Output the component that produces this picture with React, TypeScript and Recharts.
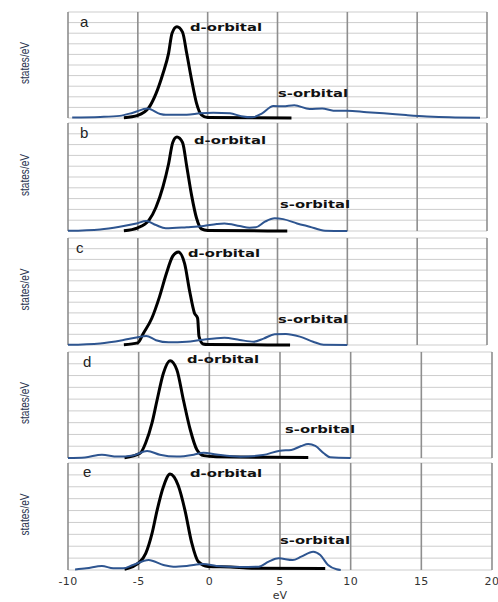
import React from "react";
import { LineChart, Line, XAxis, YAxis, CartesianGrid } from "recharts";

// x axis ticks (eV)
const X_TICKS = [-10, -5, 0, 5, 10, 15, 20];
const PANEL_LETTERS = ["a", "b", "c", "d", "e"];

// [eV, states/eV] pairs
const dOrbitalA = [[-6, 0.03], [-5, 0.25], [-4.2, 1.0], [-3.7, 2.3], [-3.2, 4.2], [-2.8, 6.1], [-2.55, 8.0], [-2.2, 8.6], [-1.8, 8.1], [-1.5, 6.1], [-1.15, 3.6], [-0.8, 1.4], [-0.45, 0.3], [0, 0.05], [6, 0]];
const sOrbitalA = [[-9.7, 0.05], [-7.7, 0.1], [-6.3, 0.2], [-5.35, 0.5], [-4.3, 0.9], [-3.4, 0.38], [-3, 0.3], [-1.5, 0.3], [-0.55, 0.44], [0.4, 0.5], [1.6, 0.44], [2.4, 0.17], [3.2, 0.06], [3.9, 0.44], [4.7, 1.13], [5.4, 1.1], [6.2, 1.2], [7.3, 0.85], [8.2, 0.9], [9, 0.69], [10, 0.69], [11.4, 0.54], [12.6, 0.44], [14.2, 0.28], [15.7, 0.15], [17.3, 0.06], [19.5, 0.02]];

const dOrbitalB = [[-6, 0.03], [-5, 0.3], [-4.2, 1.0], [-3.7, 2.2], [-3.2, 4.1], [-2.8, 6.2], [-2.5, 8.2], [-2.2, 8.7], [-1.8, 8.2], [-1.5, 6.0], [-1.15, 3.3], [-0.8, 1.2], [-0.45, 0.2], [0, 0.05], [5.7, 0]];
const sOrbitalB = [[-10, 0.02], [-7.7, 0.15], [-6.3, 0.4], [-5.1, 0.7], [-4.4, 0.93], [-3.7, 0.55], [-3, 0.25], [-1.5, 0.35], [-0.3, 0.46], [0.65, 0.65], [1.2, 0.7], [2.3, 0.46], [3, 0.31], [3.45, 0.34], [4.1, 0.86], [4.8, 1.17], [5.4, 1.1], [6.4, 0.7], [7.3, 0.4], [8.4, 0.03], [10, 0]];

const dOrbitalC = [[-6, 0.03], [-5, 0.2], [-4.6, 1.1], [-4, 2.5], [-3.45, 4.5], [-2.95, 6.7], [-2.5, 8.3], [-2.1, 8.7], [-1.65, 7.6], [-1.3, 5.1], [-0.95, 3.0], [-0.72, 2.5], [-0.62, 0.8], [-0.33, 0.1], [0, 0.05], [5.9, 0]];
const sOrbitalC = [[-10, 0.02], [-7.7, 0.15], [-6.1, 0.45], [-5.1, 0.7], [-4.4, 0.85], [-3.7, 0.45], [-2.8, 0.25], [-1.5, 0.3], [-0.5, 0.47], [1.2, 0.68], [2.3, 0.47], [3.3, 0.31], [4, 0.6], [4.8, 1.0], [5.6, 1.03], [6.6, 0.78], [7.55, 0.31], [8.3, 0.02], [10, 0]];

const dOrbitalD = [[-6, 0.03], [-4.9, 0.4], [-4.5, 1.3], [-4.05, 3.0], [-3.7, 4.9], [-3.25, 7.2], [-2.78, 8.26], [-2.3, 7.5], [-1.83, 4.9], [-1.35, 2.4], [-0.88, 0.7], [-0.4, 0.2], [0.5, 0.1], [7, 0.05]];
const sOrbitalD = [[-10, 0], [-8.8, 0.05], [-7.6, 0.28], [-6.5, 0.12], [-5.4, 0.22], [-4.4, 0.6], [-3.5, 0.28], [-2.3, 0.12], [-1.1, 0.28], [-0.4, 0.45], [0.5, 0.3], [2.2, 0.11], [3.8, 0.25], [5, 0.62], [5.8, 0.68], [6.5, 1.02], [7, 1.19], [7.5, 1.02], [8.1, 0.4], [8.55, 0.06], [10, 0]];

const dOrbitalE = [[-6, 0.05], [-4.9, 0.7], [-4.5, 1.4], [-4.05, 3.1], [-3.7, 5.0], [-3.25, 7.0], [-2.78, 8.07], [-2.2, 7.1], [-1.72, 5.0], [-1.25, 2.3], [-0.78, 0.7], [-0.1, 0.3], [1.5, 0.25], [3, 0.15], [8.2, 0.12]];
const sOrbitalE = [[-9.5, 0.05], [-8.7, 0.14], [-7.6, 0.34], [-6.8, 0.14], [-6.1, 0.14], [-5.4, 0.42], [-4.3, 0.84], [-3.25, 0.42], [-2.55, 0.28], [-1.6, 0.34], [-0.42, 0.5], [0.5, 0.34], [2.2, 0.25], [3.5, 0.28], [4.2, 0.7], [4.9, 0.98], [5.9, 0.84], [6.5, 1.12], [7.35, 1.54], [7.85, 1.26], [8.4, 0.42], [9, 0.06], [9.3, 0]];

const toPoints = (arr: number[][]) => arr.map(([x, y]) => ({ x, y }));

const D_SERIES = [dOrbitalA, dOrbitalB, dOrbitalC, dOrbitalD, dOrbitalE];
const S_SERIES = [sOrbitalA, sOrbitalB, sOrbitalC, sOrbitalD, sOrbitalE];

// layout of each panel (page pixels)
const LAYOUT = [
  { top: 12, bottom: 118, right: 487, yMax: 10, d: [190, 27], s: [278, 93], letter: [80, 27] },
  { top: 123, bottom: 231, right: 487, yMax: 10, d: [194, 140], s: [280, 204], letter: [80, 138] },
  { top: 238, bottom: 345, right: 487, yMax: 10, d: [188, 253], s: [278, 319], letter: [76, 253] },
  { top: 352, bottom: 458, right: 492, yMax: 9, d: [187, 359], s: [285, 429], letter: [83, 367] },
  { top: 463, bottom: 570, right: 492, yMax: 9, d: [190, 473], s: [280, 540], letter: [83, 477] },
];

const W = 498;
const PAD = 2;
const LEFT = 68;
const AXIS_H = 22;

// invisible tick: keeps the ticks (and so the grid lines) but draws no label
const NoTick = () => <g />;

function Panel({ idx }: { idx: number }) {
  const L = LAYOUT[idx];
  const last = idx === LAYOUT.length - 1;
  const yTicks = Array.from({ length: L.yMax + 1 }, (_, i) => i);
  const plotH = L.bottom - L.top;
  const h = plotH + PAD + (last ? AXIS_H : PAD);
  return (
    <div style={{ position: "absolute", left: 0, top: L.top - PAD, width: W, height: h }}>
      <LineChart
        width={W}
        height={h}
        margin={{ top: PAD, right: W - L.right, bottom: last ? 0 : PAD, left: LEFT }}
      >
        <CartesianGrid vertical={false} stroke="#cdcdcd" strokeWidth={1} />
        <CartesianGrid horizontal={false} stroke="#8e8e8e" strokeWidth={1.6} />
        <XAxis
          type="number"
          dataKey="x"
          domain={[-10, 20]}
          ticks={X_TICKS}
          allowDataOverflow
          interval={0}
          height={last ? AXIS_H : 0}
          axisLine={false}
          tickLine={false}
          tickSize={0}
          tickMargin={7}
          tick={last ? { fontSize: 11, fill: "#333", fontFamily: "DejaVu Sans", letterSpacing: 0.4 } : NoTick}
        />
        <YAxis
          type="number"
          domain={[0, L.yMax]}
          ticks={yTicks}
          interval={0}
          width={0}
          axisLine={false}
          tickLine={false}
          tick={NoTick}
        />
        <Line
          data={toPoints(D_SERIES[idx])}
          dataKey="y"
          type="monotone"
          stroke="#000"
          strokeWidth={3}
          dot={false}
          isAnimationActive={false}
        />
        <Line
          data={toPoints(S_SERIES[idx])}
          dataKey="y"
          type="monotone"
          stroke="#2e5590"
          strokeWidth={2}
          dot={false}
          isAnimationActive={false}
        />
      </LineChart>
    </div>
  );
}

export default function App() {
  return (
    <div style={{ position: "absolute", left: 0, top: 0, width: W, height: 602, background: "#fff", overflow: "hidden" }}>
      {LAYOUT.map((_, i) => (
        <Panel key={i} idx={i} />
      ))}
      <svg
        width={W}
        height={602}
        style={{ position: "absolute", left: 0, top: 0, pointerEvents: "none" }}
      >
        {LAYOUT.map((L, i) => {
          const cy = (L.top + L.bottom) / 2 - 2;
          return (
            <g key={i}>
              <text
                x={L.letter[0]}
                y={L.letter[1]}
                fontFamily="Liberation Sans, Arial, sans-serif"
                fontSize={15}
                fill="#222"
              >
                {PANEL_LETTERS[i]}
              </text>
              <text
                transform={`translate(29, ${cy}) rotate(-90)`}
                textAnchor="middle"
                fontFamily="Liberation Sans, Arial, sans-serif"
                fontSize={12}
                fill="#2a3550"
                textLength={42}
                lengthAdjust="spacingAndGlyphs"
              >
                states/eV
              </text>
              <text
                x={L.d[0]}
                y={L.d[1] + 4}
                fontFamily="DejaVu Sans, sans-serif"
                fontWeight="bold"
                fontSize={10}
                fill="#111"
                textLength={72}
                lengthAdjust="spacingAndGlyphs"
              >
                d-orbital
              </text>
              <text
                x={L.s[0]}
                y={L.s[1] + 4}
                fontFamily="DejaVu Sans, sans-serif"
                fontWeight="bold"
                fontSize={10}
                fill="#111"
                textLength={70}
                lengthAdjust="spacingAndGlyphs"
              >
                s-orbital
              </text>
            </g>
          );
        })}
        <text x={280} y={599} textAnchor="middle" fontFamily="DejaVu Sans, sans-serif" fontSize={11} fill="#333">
          eV
        </text>
      </svg>
    </div>
  );
}
